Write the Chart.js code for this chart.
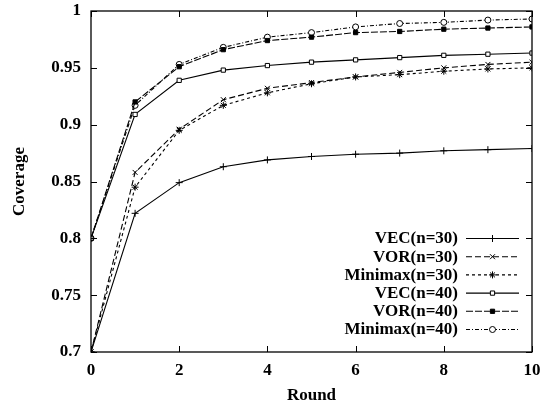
<!DOCTYPE html>
<html>
<head>
<meta charset="utf-8">
<script src="https://cdn.jsdelivr.net/npm/chart.js@4.4.1/dist/chart.umd.min.js"></script>
<style>
  html, body { margin: 0; padding: 0; background: #fff; }
  #wrap { width: 542px; height: 410px; }
</style>
</head>
<body>
<div id="wrap"><canvas id="c" width="542" height="410"></canvas></div>
<script>
// Coverage per round for each deployment scheme
const rounds    = [0, 1, 2, 3, 4, 5, 6, 7, 8, 9, 10];
const vec30     = [0.700, 0.822, 0.849, 0.863, 0.869, 0.872, 0.874, 0.875, 0.877, 0.878, 0.879];
const vor30     = [0.700, 0.858, 0.896, 0.922, 0.932, 0.937, 0.942, 0.946, 0.950, 0.953, 0.955];
const minimax30 = [0.700, 0.845, 0.895, 0.917, 0.928, 0.936, 0.942, 0.944, 0.947, 0.949, 0.950];
const vec40     = [0.800, 0.909, 0.939, 0.948, 0.952, 0.955, 0.957, 0.959, 0.961, 0.962, 0.963];
const vor40     = [0.800, 0.920, 0.951, 0.966, 0.974, 0.977, 0.981, 0.982, 0.984, 0.985, 0.986];
const minimax40 = [0.800, 0.917, 0.953, 0.968, 0.977, 0.981, 0.986, 0.989, 0.990, 0.992, 0.993];

const xTicks = [0, 2, 4, 6, 8, 10];
const yTicks = [0.7, 0.75, 0.8, 0.85, 0.9, 0.95, 1];

const FONT = '"Liberation Serif", "Times New Roman", serif';

function pts(values) {
  return rounds.map((r, i) => ({ x: r, y: values[i] }));
}

function series(label, values, style, dash, fill, radius) {
  return {
    label: label,
    data: pts(values),
    borderColor: '#000',
    borderWidth: 1.1,
    borderDash: dash,
    pointStyle: style,
    pointRadius: radius,
    pointBorderColor: '#000',
    pointBorderWidth: 1,
    pointBackgroundColor: fill,
    fill: false,
    tension: 0
  };
}

const datasets = [
  series('VEC(n=30)',     vec30,     'cross',    [],           '#000', 3.5),
  series('VOR(n=30)',     vor30,     'crossRot', [6, 3],       '#000', 3.5),
  series('Minimax(n=30)', minimax30, 'star',     [3, 3],       '#000', 3.5),
  series('VEC(n=40)',     vec40,     'rect',     [],           '#fff', 3),
  series('VOR(n=40)',     vor40,     'rect',     [7, 2],       '#000', 3),
  series('Minimax(n=40)', minimax40, 'circle',   [4, 2, 1, 2], '#fff', 3)
];

// Frame on all four sides with inward tick marks, gnuplot style
const framePlugin = {
  id: 'frame',
  afterDraw(chart) {
    const ctx = chart.ctx, a = chart.chartArea;
    const xs = chart.scales.x, ys = chart.scales.y;
    ctx.save();
    ctx.strokeStyle = '#000';
    ctx.lineWidth = 1.3;
    ctx.setLineDash([]);
    ctx.strokeRect(a.left, a.top, a.right - a.left, a.bottom - a.top);
    ctx.lineWidth = 1;
    const L = 6;
    ctx.beginPath();
    xTicks.forEach(v => {
      const px = Math.round(xs.getPixelForValue(v)) + 0.5;
      ctx.moveTo(px, a.bottom); ctx.lineTo(px, a.bottom - L);
      ctx.moveTo(px, a.top);    ctx.lineTo(px, a.top + L);
    });
    yTicks.forEach(v => {
      const py = Math.round(ys.getPixelForValue(v)) + 0.5;
      ctx.moveTo(a.left, py);  ctx.lineTo(a.left + L, py);
      ctx.moveTo(a.right, py); ctx.lineTo(a.right - L, py);
    });
    ctx.stroke();
    ctx.restore();
  }
};

// Key in the lower right of the plot: label, then a line sample with its marker
const keyPlugin = {
  id: 'key',
  afterDraw(chart) {
    const ctx = chart.ctx, a = chart.chartArea;
    const textRight = a.right - 74;
    const x0 = a.right - 66, x1 = a.right - 13;
    const rowH = 18.2;
    const firstY = a.bottom - 114;
    ctx.save();
    ctx.font = 'bold 17px ' + FONT;
    ctx.textAlign = 'right';
    ctx.textBaseline = 'middle';
    ctx.fillStyle = '#000';
    chart.data.datasets.forEach((ds, i) => {
      const y = firstY + i * rowH;
      ctx.fillText(ds.label, textRight, y + 1);
      ctx.strokeStyle = '#000';
      ctx.lineWidth = ds.borderWidth;
      ctx.setLineDash(ds.borderDash || []);
      ctx.beginPath();
      ctx.moveTo(x0, y + 0.5); ctx.lineTo(x1, y + 0.5);
      ctx.stroke();
      ctx.setLineDash([]);
      ctx.fillStyle = ds.pointBackgroundColor;
      ctx.strokeStyle = '#000';
      ctx.lineWidth = 1;
      Chart.helpers.drawPoint(ctx, {
        pointStyle: ds.pointStyle, radius: ds.pointRadius, rotation: 0, borderWidth: 1
      }, (x0 + x1) / 2, y + 0.5);
      ctx.fillStyle = '#000';
    });
    ctx.restore();
  }
};

function noOverflow(s) {
  s.paddingTop = 0; s.paddingBottom = 0; s.paddingLeft = 0; s.paddingRight = 0;
}

new Chart(document.getElementById('c'), {
  type: 'line',
  data: { datasets: datasets },
  options: {
    responsive: false,
    animation: false,
    devicePixelRatio: 1,
    layout: { padding: { top: 11, right: 10, left: 0, bottom: 0 } },
    plugins: { legend: { display: false }, tooltip: { enabled: false } },
    scales: {
      x: {
        type: 'linear',
        min: 0, max: 10,
        afterFit(s) { s.height = 58; noOverflow(s); },
        afterBuildTicks(s) { s.ticks = xTicks.map(v => ({ value: v })); },
        grid: { display: false, drawTicks: false },
        border: { display: false },
        ticks: {
          padding: 8,
          color: '#000',
          font: { family: FONT, size: 17, weight: 'bold' }
        },
        title: {
          display: true, text: 'Round', color: '#000',
          font: { family: FONT, size: 17, weight: 'bold' },
          padding: { top: 0, bottom: 4 }
        }
      },
      y: {
        type: 'linear',
        min: 0.7, max: 1,
        afterFit(s) { s.width = 91; noOverflow(s); },
        afterBuildTicks(s) { s.ticks = yTicks.map(v => ({ value: v })); },
        grid: { display: false, drawTicks: false },
        border: { display: false },
        ticks: {
          padding: 10,
          color: '#000',
          font: { family: FONT, size: 17, weight: 'bold' },
          callback: v => String(Math.round(v * 100) / 100)
        },
        title: {
          display: true, text: 'Coverage', color: '#000',
          font: { family: FONT, size: 17, weight: 'bold' },
          padding: { top: 9, bottom: 0 }
        }
      }
    }
  },
  plugins: [framePlugin, keyPlugin]
});
</script>
</body>
</html>
